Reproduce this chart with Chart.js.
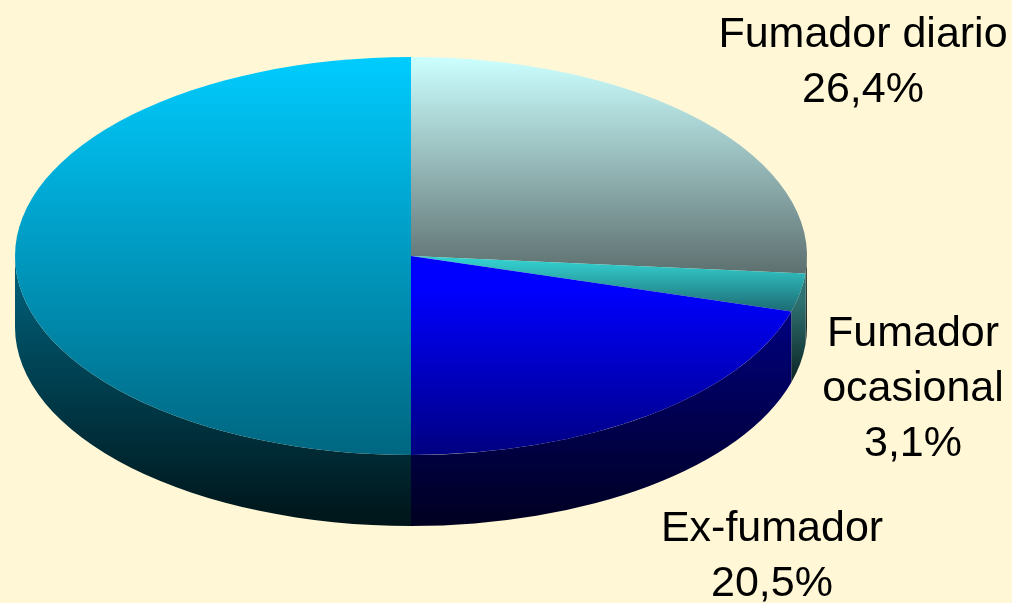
<!DOCTYPE html>
<html><head><meta charset="utf-8">
<style>html,body{margin:0;padding:0;background:#FFF7D6;overflow:hidden}canvas{display:block}</style>
<script src="https://cdn.jsdelivr.net/npm/chart.js@4/dist/chart.umd.js"></script>
</head><body><canvas id="c" width="1012" height="603"></canvas>
<script>
const categories = ["Fumador diario", "Fumador ocasional", "Ex-fumador", ""];
const values = [26.4, 3.1, 20.5, 50.0];
const labelLines = [["Fumador diario", "26,4%"], ["Fumador", "ocasional", "3,1%"], ["Ex-fumador", "20,5%"]];
const labelCenters = [863, 913, 772];
const labelFirstBaselines = [47, 346, 541];
const topColors = [["#CCFFFF", 57, "#5E7070", 273], ["#33CCCC", 262, "#1C6A72", 312], ["#0000FF", 290, "#000080", 456], ["#00CCFF", 57, "#006680", 456]];
const wallColors = [["#3A5050", 273, "#101818", 345], ["#2F7272", 300, "#0A2020", 385], ["#000080", 310, "#000020", 526], ["#005A72", 290, "#001418", 526]];
const CX = 411, CY = 256, RX = 396, RY = 199, DEPTH = 71, R = 256;

const tilt = {
  id: "tilt",
  beforeDatasetsDraw(chart) {
    const ctx = chart.ctx, arcs = chart.getDatasetMeta(0).data;
    arcs.forEach((arc, i) => {
      const a = Math.max(arc.startAngle, 0), b = Math.min(arc.endAngle, Math.PI);
      if (b <= a) return;
      const g = ctx.createLinearGradient(0, wallColors[i][1], 0, wallColors[i][3]);
      g.addColorStop(0, wallColors[i][0]);
      g.addColorStop(1, wallColors[i][2]);
      ctx.beginPath();
      ctx.ellipse(CX, CY, RX, RY, 0, a, b, false);
      ctx.ellipse(CX, CY + DEPTH, RX, RY, 0, b, a, true);
      ctx.closePath();
      ctx.fillStyle = g;
      ctx.fill();
    });
  },
  beforeDatasetDraw(chart) {
    const ctx = chart.ctx;
    ctx.save();
    ctx.translate(CX, CY);
    ctx.scale(RX / R, RY / R);
    ctx.translate(-CX, -CY);
  },
  afterDatasetDraw(chart) { chart.ctx.restore(); },
  afterDraw(chart) {
    const ctx = chart.ctx;
    ctx.save();
    ctx.fillStyle = "#000";
    ctx.font = '43px "Liberation Sans", Arial, sans-serif';
    ctx.textAlign = "center";
    ctx.textBaseline = "alphabetic";
    labelLines.forEach((lines, i) => {
      lines.forEach((t, j) => ctx.fillText(t, labelCenters[i], labelFirstBaselines[i] + j * 55));
    });
    ctx.restore();
  }
};

new Chart(document.getElementById("c"), {
  type: "pie",
  data: {
    labels: categories,
    datasets: [{
      data: values,
      borderWidth: 0,
      clip: false,
      backgroundColor(c) {
        const s = topColors[c.dataIndex];
        if (!s) return "#000";
        const toY = y => CY + (y - CY) * R / RY;
        const g = c.chart.ctx.createLinearGradient(0, toY(s[1]), 0, toY(s[3]));
        g.addColorStop(0, s[0]);
        g.addColorStop(1, s[2]);
        return g;
      }
    }]
  },
  options: {
    responsive: false,
    animation: false,
    rotation: 0,
    layout: { padding: { left: CX - R, right: 1012 - CX - R, top: CY - R, bottom: 603 - CY - R } },
    plugins: { legend: { display: false }, tooltip: { enabled: false }, title: { display: false } }
  },
  plugins: [tilt]
});
</script></body></html>
